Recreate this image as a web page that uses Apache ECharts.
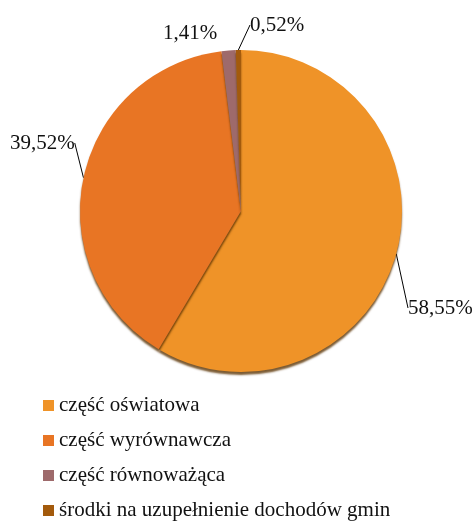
<!DOCTYPE html>
<html lang="pl">
<head>
<meta charset="UTF-8">
<title>Struktura subwencji</title>
<script src="https://cdn.jsdelivr.net/npm/echarts@6/dist/echarts.min.js"></script>
<style>
  html, body { margin: 0; padding: 0; background: #fff; }
  #chart { width: 475px; height: 521px; }
</style>
</head>
<body>
<div id="chart"></div>
<script>
  var names = ['część oświatowa', 'część wyrównawcza', 'część równoważąca', 'środki na uzupełnienie dochodów gmin'];
  var values = [58.55, 39.52, 1.41, 0.52];
  var colors = ['#EF9328', '#E87524', '#9E6A6B', '#A35A0C'];
  // where each percentage label sits (left edge, vertical middle)
  var labelSpots = [[408, 308], [10, 143], [163, 33], [250, 25]];
  var showLine = [true, true, false, true];

  var chart = echarts.init(document.getElementById('chart'));

  var data = names.map(function (n, i) {
    return {
      name: n,
      value: values[i],
      itemStyle: { color: colors[i] },
      label: i === 1 ? { padding: [0, 6, 0, 0] } : {},
      labelLine: { show: showLine[i] }
    };
  });

  chart.setOption({
    animation: false,
    legend: {
      orient: 'vertical',
      left: 38,
      top: 390,
      height: 131,
      itemWidth: 11,
      itemHeight: 11,
      itemGap: 14,
      icon: 'rect',
      data: names,
      textStyle: { fontFamily: 'Liberation Serif', fontSize: 21, lineHeight: 21, color: '#111' }
    },
    series: [{
      type: 'pie',
      center: [241, 211],
      radius: 161,
      startAngle: 90,
      clockwise: true,
      data: data,
      itemStyle: {
        shadowColor: 'rgba(90,50,0,0.8)',
        shadowBlur: 2,
        shadowOffsetY: 3
      },
      label: {
        show: true,
        position: 'outside',
        overflow: 'none',
        width: 100,
        fontFamily: 'Liberation Serif',
        fontSize: 21,
        color: '#111',
        formatter: function (p) { return p.value.toFixed(2).replace('.', ',') + '%'; }
      },
      labelLine: {
        show: true,
        length: 18,
        length2: 0,
        lineStyle: { color: '#000', width: 1 }
      },
      labelLayout: function (p) {
        var s = labelSpots[p.dataIndex];
        return { x: s[0], y: s[1], align: 'left', verticalAlign: 'middle' };
      }
    }]
  });
</script>
</body>
</html>
